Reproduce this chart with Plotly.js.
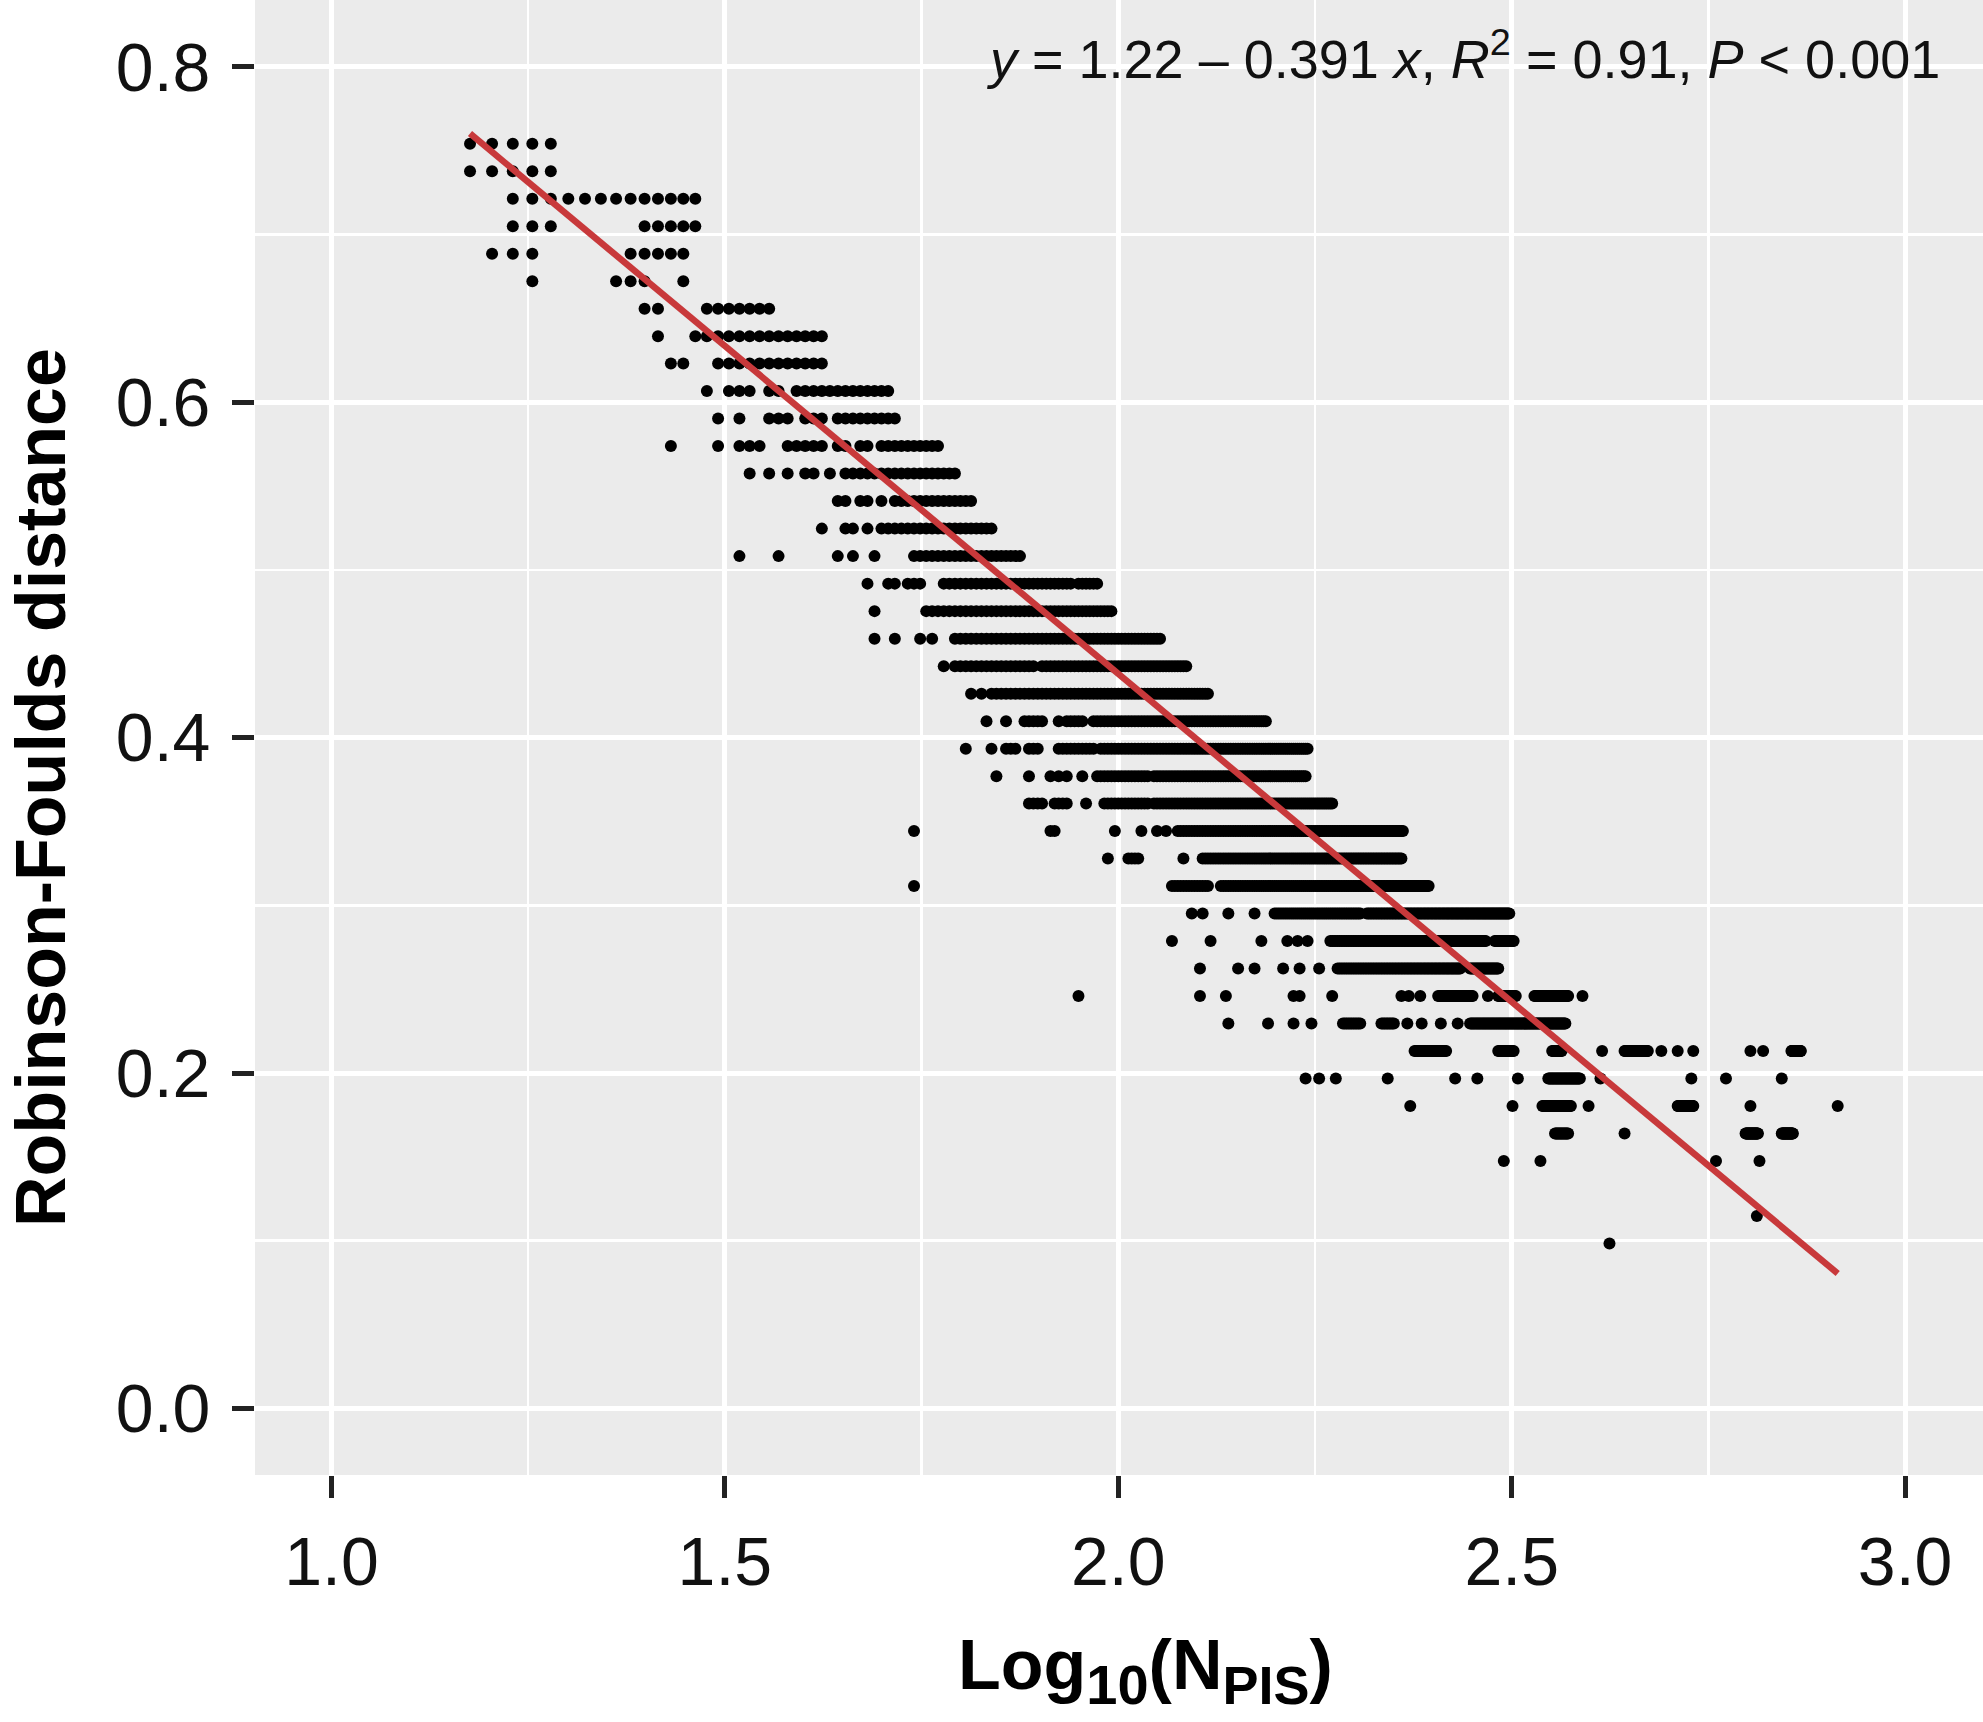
<!DOCTYPE html>
<html>
<head>
<meta charset="utf-8">
<script src="https://cdn.plot.ly/plotly-3.0.1.min.js"></script>
<style>
  html, body { margin: 0; padding: 0; background: #ffffff; }
  #chart { width: 1983px; height: 1722px; }
</style>
</head>
<body>
<div id="chart"></div>
<script>
// Robinson-Foulds distance levels (rows of dots)
const rfDistance = [
  0.7541, 0.7377, 0.7213, 0.7049, 0.6885, 0.6721, 0.6557, 0.6393, 0.6230, 0.6066,
  0.5902, 0.5738, 0.5574, 0.5410, 0.5246, 0.5082, 0.4918, 0.4754, 0.4590, 0.4426,
  0.4262, 0.4098, 0.3934, 0.3770, 0.3607, 0.3443, 0.3279, 0.3115, 0.2951, 0.2787,
  0.2623, 0.2459, 0.2295, 0.2131, 0.1967, 0.1803, 0.1639, 0.1475, 0.1148, 0.0984
];

// Number of parsimony-informative sites present on each row:
// single numbers are isolated dots, [from, to] pairs are unbroken runs of dots
const npisByRow = [
  [[15,19]],
  [[15,19]],
  [[17,29]],
  [[17,19],[25,29]],
  [[16,18],[24,28]],
  [18,[23,25],28],
  [25,26,[30,36]],
  [26,[29,42]],
  [27,28,[31,42]],
  [30,[32,34],36,37,[39,51]],
  [31,33,[36,38],[40,42],[44,52]],
  [27,31,[33,35],[38,42],44,45,47,48,[50,59]],
  [34,36,38,40,41,43,[45,62]],
  [44,45,47,48,50,[52,65]],
  [42,45,46,48,[50,69]],
  [33,37,44,46,49,[55,75]],
  [48,51,52,[54,56],[60,87],[89,94]],
  [49,[57,98]],
  [49,52,56,58,[62,113]],
  [60,[62,78],[80,122]],
  [65,67,[69,130]],
  [68,72,[76,80],84,[86,90],[93,154]],
  [64,69,[72,74],[77,79],[84,93],[95,174]],
  [70,77,82,84,86,90,[94,109],[111,173]],
  [[77,80],[83,86],91,[96,109],[111,187]],
  [55,82,83,99,107,112,115,[119,230]],
  [97,[103,106],121,[128,229]],
  [55,[117,130],[135,248]],
  [124,128,138,149,[158,203],[207,314]],
  [117,131,152,164,169,174,[186,293],[301,318]],
  [127,142,149,162,170,180,[190,272],[280,304]],
  [89,127,137,167,170,187,229,234,242,[255,282],295,[304,320],[338,373],389],
  [138,155,167,176,[193,203],[216,224],233,243,257,270,[280,370]],
  [[238,261],[304,318],[356,366],412,[440,471],490,514,538,636,660,[717,737]],
  [173,180,189,220,268,286,322,[352,386],410,535,592,697],
  [235,317,[346,376],396,[514,538],636,821],
  [[359,373],440,[627,650],[697,720]],
  [309,344,575,653],
  [648],
  [421]
];

// Fitted regression reported on the chart
const fitIntercept = 1.22;
const fitSlope = -0.391;

const xTickVals = [1.0, 1.5, 2.0, 2.5, 3.0];
const yTickVals = [0.0, 0.2, 0.4, 0.6, 0.8];

// Build point lists
const px = [], py = [];
rfDistance.forEach(function (rf, i) {
  npisByRow[i].forEach(function (item) {
    if (Array.isArray(item)) {
      for (let n = item[0]; n <= item[1]; n++) { px.push(Math.log10(n)); py.push(rf); }
    } else {
      px.push(Math.log10(item)); py.push(rf);
    }
  });
});

const xMin = Math.min.apply(null, px);
const xMax = Math.max.apply(null, px);

const points = {
  type: 'scatter', mode: 'markers', x: px, y: py,
  marker: { color: '#000000', size: 12, line: { width: 0 } },
  hoverinfo: 'skip', showlegend: false
};
const fit = {
  type: 'scatter', mode: 'lines',
  x: [xMin, xMax],
  y: [fitIntercept + fitSlope * xMin, fitIntercept + fitSlope * xMax],
  line: { color: '#C8393B', width: 6.5 },
  hoverinfo: 'skip', showlegend: false
};

const fontFam = 'Liberation Sans, Arial, Helvetica, sans-serif';
const tickFont = { family: fontFam, size: 68, color: '#111111' };
const titleFont = { family: fontFam, size: 70, color: '#000000', weight: 'bold' };

const layout = {
  width: 1983, height: 1722, autosize: false,
  margin: { l: 255, r: 0, t: 0, b: 247, pad: 0 },
  paper_bgcolor: '#ffffff', plot_bgcolor: '#EBEBEB',
  showlegend: false,
  xaxis: {
    range: [0.9028, 3.099], tickvals: xTickVals, tickformat: '.1f',
    showgrid: true, gridcolor: '#ffffff', gridwidth: 5,
    minor: { dtick: 0.25, tick0: 0, showgrid: true, gridcolor: '#ffffff', gridwidth: 2.5, ticks: '' },
    zeroline: false, showline: false,
    ticks: 'outside', ticklen: 22, tickwidth: 5, tickcolor: '#222222',
    ticklabelstandoff: 5,
    tickfont: tickFont, fixedrange: true
  },
  yaxis: {
    range: [-0.0397, 0.8398], tickvals: yTickVals, tickformat: '.1f',
    showgrid: true, gridcolor: '#ffffff', gridwidth: 5,
    minor: { dtick: 0.1, tick0: 0, showgrid: true, gridcolor: '#ffffff', gridwidth: 2.5, ticks: '' },
    zeroline: false, showline: false,
    ticks: 'outside', ticklen: 22, tickwidth: 5, tickcolor: '#222222',
    ticklabelstandoff: 8,
    tickfont: tickFont, fixedrange: true
  },
  annotations: [
    {
      xref: 'paper', yref: 'paper', x: 0.976, y: 0.963, xanchor: 'right', yanchor: 'middle',
      showarrow: false,
      text: '<i>y</i> = 1.22 \u2013 0.391 <i>x</i>, <i>R</i><sup>2</sup> = 0.91, <i>P</i> &lt; 0.001',
      font: { family: fontFam, size: 54, color: '#111111' }
    },
    {
      xref: 'paper', yref: 'paper', x: 0.5156, y: -0.133, xanchor: 'center', yanchor: 'middle',
      showarrow: false,
      text: 'Log<sub><span style="font-size:56px">10</span></sub>(N<sub><span style="font-size:54px">PIS</span></sub>)',
      font: titleFont
    },
    {
      xref: 'paper', yref: 'paper', x: -0.124, y: 0.4663, xanchor: 'center', yanchor: 'middle',
      showarrow: false, textangle: -90,
      text: 'Robinson-Foulds distance',
      font: titleFont
    }
  ]
};

Plotly.newPlot('chart', [points, fit], layout, { displayModeBar: false, staticPlot: true });
</script>
</body>
</html>
